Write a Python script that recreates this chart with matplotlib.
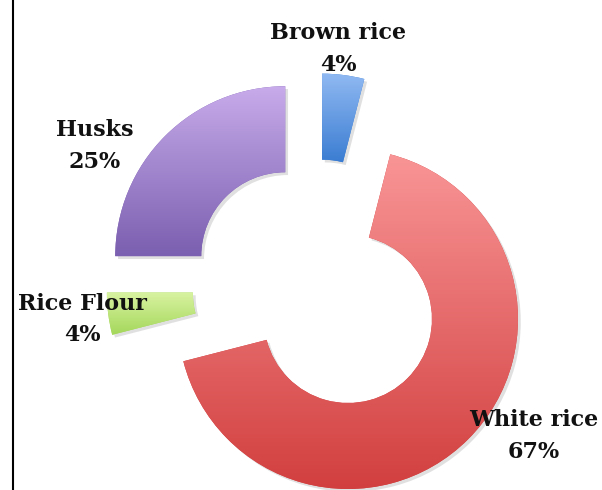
import matplotlib.pyplot as plt
import numpy as np
from matplotlib.colors import LinearSegmentedColormap
from matplotlib.lines import Line2D
import matplotlib.patheffects as pe

# rice milling output shares
labels = ['Brown rice', 'White rice', 'Rice Flour', 'Husks']
shares = [4, 67, 4, 25]
explode = [0.26, 0.262, 0.235, 0.26]

# gradient colours per slice, top -> bottom
top_colors = ['#90b9f2', '#f99596', '#d9f3a2', '#c7abea']
bottom_colors = ['#3b7dd2', '#d23f3f', '#a4d75a', '#7b5fb0']

# label anchors (centre of the two-line text block)
label_pos = [(0.1265, 1.4029), (1.2794, -0.8735), (-1.3765, -0.1882), (-1.3029, 0.8324)]

fig = plt.figure(figsize=(6.02, 4.90), dpi=100)
ax = fig.add_axes([0, 0, 1, 1])

wedges, _ = ax.pie(shares, explode=explode, startangle=90, counterclock=False,
                   radius=1.0, wedgeprops=dict(width=0.506, linewidth=0))

grad = np.linspace(0, 1, 256).reshape(-1, 1)
for w, c0, c1 in zip(wedges, top_colors, bottom_colors):
    w.set_facecolor(c1)
    w.set_path_effects([pe.SimplePatchShadow(offset=(2, -2), shadow_rgbFace='#666666', alpha=0.2),
                        pe.Normal()])
    ext = w.get_path().get_extents()
    cmap = LinearSegmentedColormap.from_list('g', [c0, c1])
    im = ax.imshow(grad, cmap=cmap, aspect='auto', origin='upper',
                   extent=[ext.x0, ext.x1, ext.y0, ext.y1], zorder=w.get_zorder() + 0.5,
                   interpolation='bilinear')
    im.set_clip_path(w)

for name, val, (x, y) in zip(labels, shares, label_pos):
    ax.text(x, y, f'{name}\n{val}%', ha='center', va='center', multialignment='center',
            fontsize=16, fontweight='bold', family='DejaVu Serif', linespacing=1.55,
            color='#111111', zorder=10)

ax.set_xlim(-316.5 / 170, (602 - 316.5) / 170)
ax.set_ylim((287.5 - 490) / 170, 287.5 / 170)
ax.set_aspect('auto')
ax.axis('off')

# frame edge on the left
fig.add_artist(Line2D([12.5 / 602, 12.5 / 602], [0, 1], color='black', lw=1.5,
                      transform=fig.transFigure))

fig.savefig('out.png', dpi=100)
